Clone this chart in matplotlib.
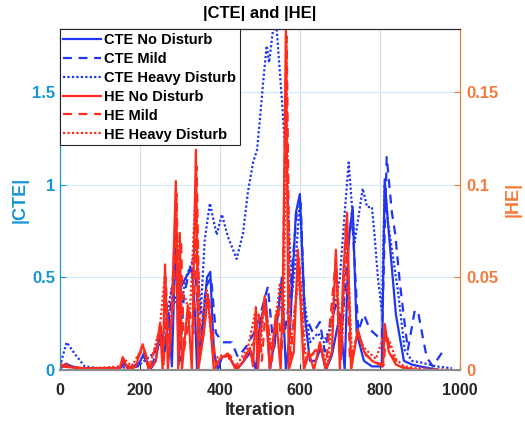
import matplotlib
matplotlib.use("Agg")
import matplotlib.pyplot as plt

plt.rcParams['font.family'] = ['Liberation Sans', 'DejaVu Sans']
plt.rcParams['font.weight'] = 'bold'

# |CTE| series (left axis)
cte_none_x = [0, 20, 40, 100, 150, 160, 175, 195, 210, 225, 240, 252, 262, 272, 280, 290, 297, 303,
              315, 330, 338, 343, 355, 368, 376, 385, 395, 405, 420, 432, 442, 460, 478, 490, 500,
              515, 525, 540, 555, 565, 575, 590, 600, 612, 625, 640, 652, 665, 680, 700, 712, 722,
              732, 742, 760, 780, 805, 812, 820, 840, 860, 880, 900, 950, 980]
cte_none_y = [0.01, 0.03, 0.01, 0.01, 0.01, 0.04, 0.01, 0.02, 0.09, 0.0, 0.05, 0.22, 0.1, 0.31, 0.02,
              0.75, 0.03, 0.45, 0.5, 0.55, 0.3, 0.0, 0.2, 0.5, 0.53, 0.1, 0.0, 0.07, 0.08, 0.04, 0.0,
              0.05, 0.1, 0.0, 0.25, 0.38, 0.0, 0.2, 0.5, 0.0, 0.2, 0.85, 0.95, 0.3, 0.05, 0.05, 0.12,
              0.0, 0.08, 0.3, 0.0, 0.7, 0.88, 0.2, 0.05, 0.02, 0.02, 1.03, 0.8, 0.3, 0.05, 0.03, 0.02,
              0.0, 0.0]

cte_mild_x = [0, 20, 40, 100, 150, 160, 180, 210, 230, 250, 265, 275, 290, 300, 310, 325, 340, 350,
              365, 378, 390, 407, 430, 445, 467, 485, 500, 520, 535, 550, 562, 575, 592, 602, 612,
              633, 650, 662, 675, 690, 705, 718, 730, 746, 760, 775, 800, 805, 817, 830, 838, 850,
              862, 870, 887, 895, 907, 917, 932, 957, 965]
cte_mild_y = [0.01, 0.04, 0.01, 0.01, 0.01, 0.03, 0.01, 0.07, 0.01, 0.2, 0.15, 0.3, 0.7, 0.05, 0.4,
              0.55, 0.5, 0.1, 0.45, 0.5, 0.2, 0.15, 0.15, 0.07, 0.13, 0.2, 0.29, 0.45, 0.1, 0.4, 0.2,
              0.4, 0.85, 0.9, 0.3, 0.2, 0.26, 0.1, 0.24, 0.35, 0.2, 0.6, 0.85, 0.21, 0.3, 0.22, 0.17,
              0.17, 1.15, 0.85, 0.74, 0.47, 0.25, 0.11, 0.32, 0.32, 0.18, 0.07, 0.02, 0.1, 0.09]

cte_heavy_x = [0, 17, 40, 62, 100, 150, 200, 240, 260, 280, 300, 315, 330, 342, 352, 362, 375, 392,
               405, 420, 442, 458, 470, 483, 493, 500, 508, 517, 523, 533, 542, 555, 563, 570, 580,
               590, 600, 610, 625, 645, 660, 680, 700, 712, 722, 737, 757, 768, 780, 787, 795, 805,
               812, 820, 830, 845, 862, 880, 905, 940, 980]
cte_heavy_y = [0.02, 0.15, 0.08, 0.02, 0.01, 0.01, 0.03, 0.1, 0.2, 0.45, 0.3, 0.5, 0.58, 0.67, 0.3,
               0.7, 0.9, 0.73, 0.84, 0.72, 0.6, 0.74, 0.96, 1.12, 1.19, 1.35, 1.55, 1.75, 1.66, 1.84,
               1.84, 1.46, 1.19, 0.92, 0.4, 0.6, 0.92, 0.4, 0.15, 0.2, 0.15, 0.25, 0.5, 0.85, 1.12,
               0.69, 0.98, 0.88, 0.88, 0.72, 0.5, 0.32, 1.0, 0.8, 0.65, 0.43, 0.11, 0.05, 0.04, 0.02,
               0.01]

# |HE| series (right axis)
he_none_x = [0, 50, 100, 150, 157, 170, 190, 207, 222, 240, 250, 257, 263, 270, 280, 290, 296, 300,
             305, 320, 330, 340, 346, 360, 370, 385, 400, 420, 440, 460, 475, 483, 490, 495, 502,
             512, 525, 540, 552, 558, 565, 572, 585, 595, 610, 622, 635, 650, 665, 680, 690, 700,
             708, 718, 728, 745, 760, 780, 808, 812, 822, 840, 860, 900, 980]
he_none_y = [0.002, 0.001, 0.001, 0.001, 0.007, 0.0, 0.002, 0.014, 0.0, 0.005, 0.025, 0.0, 0.057,
             0.0, 0.03, 0.102, 0.0, 0.074, 0.0, 0.035, 0.0, 0.119, 0.0, 0.02, 0.041, 0.0, 0.006,
             0.009, 0.0, 0.005, 0.012, 0.002, 0.034, 0.0, 0.02, 0.04, 0.0, 0.03, 0.0, 0.05, 0.184,
             0.0, 0.01, 0.065, 0.0, 0.01, 0.0, 0.015, 0.0, 0.01, 0.065, 0.0, 0.05, 0.085, 0.0,
             0.022, 0.01, 0.005, 0.002, 0.025, 0.01, 0.003, 0.001, 0.0, 0.0]

he_mild_x = [0, 30, 60, 150, 160, 175, 210, 225, 252, 260, 265, 272, 285, 292, 298, 303, 310, 325,
             335, 342, 350, 372, 390, 405, 425, 445, 470, 485, 497, 505, 515, 530, 545, 555, 567,
             576, 598, 612, 650, 665, 690, 702, 715, 725, 745, 765, 790, 810, 815, 830, 850, 870,
             900, 980]
he_mild_y = [0.003, 0.002, 0.001, 0.001, 0.006, 0.001, 0.012, 0.001, 0.024, 0.002, 0.05, 0.005,
             0.04, 0.095, 0.01, 0.07, 0.01, 0.03, 0.02, 0.11, 0.01, 0.04, 0.003, 0.007, 0.008,
             0.001, 0.01, 0.015, 0.03, 0.005, 0.035, 0.005, 0.035, 0.01, 0.18, 0.005, 0.06, 0.003,
             0.014, 0.002, 0.06, 0.005, 0.08, 0.005, 0.02, 0.008, 0.004, 0.003, 0.02, 0.008, 0.002,
             0.001, 0.0, 0.0]

he_heavy_x = [0, 15, 40, 80, 150, 160, 180, 208, 225, 250, 262, 275, 290, 300, 312, 325, 340, 350,
              367, 385, 400, 420, 440, 470, 487, 500, 512, 530, 550, 560, 566, 575, 600, 615, 640,
              652, 670, 690, 705, 717, 730, 745, 760, 790, 812, 825, 840, 860, 900, 980]
he_heavy_y = [0.004, 0.003, 0.001, 0.001, 0.002, 0.006, 0.002, 0.013, 0.002, 0.023, 0.05, 0.01,
              0.09, 0.04, 0.04, 0.03, 0.1, 0.02, 0.043, 0.005, 0.008, 0.007, 0.002, 0.012, 0.03,
              0.01, 0.038, 0.01, 0.047, 0.02, 0.17, 0.01, 0.055, 0.005, 0.01, 0.012, 0.003, 0.055,
              0.01, 0.075, 0.008, 0.02, 0.012, 0.006, 0.02, 0.015, 0.006, 0.002, 0.001, 0.0]

left_col = '#1596d3'
right_col = '#f4793b'
blue = '#1f35f2'
red = '#ff2b1c'

fig = plt.figure(figsize=(5.25, 4.22), dpi=100)
ax = fig.add_axes([0.114, 0.123, 0.762, 0.808])
ax2 = ax.twinx()

h1, = ax.plot(cte_none_x, cte_none_y, color=blue, lw=1.6, ls='-', label='CTE No Disturb')
h2, = ax.plot(cte_mild_x, cte_mild_y, color=blue, lw=1.6, ls=(0, (4, 3)), label='CTE Mild')
h3, = ax.plot(cte_heavy_x, cte_heavy_y, color=blue, lw=1.6, ls=(0, (1, 1)), label='CTE Heavy Disturb')
h4, = ax2.plot(he_none_x, he_none_y, color=red, lw=1.6, ls='-', label='HE No Disturb')
h5, = ax2.plot(he_mild_x, he_mild_y, color=red, lw=1.6, ls=(0, (4, 3)), label='HE Mild')
h6, = ax2.plot(he_heavy_x, he_heavy_y, color=red, lw=1.6, ls=(0, (1, 1)), label='HE Heavy Disturb')

ax.set_xlim(0, 1000)
ax.set_ylim(0, 1.84)
ax2.set_ylim(0, 0.184)
ax.set_xticks([0, 200, 400, 600, 800, 1000])
ax.set_yticks([0, 0.5, 1, 1.5])
ax.set_yticklabels(['0', '0.5', '1', '1.5'])
ax2.set_yticks([0, 0.05, 0.1, 0.15])
ax2.set_yticklabels(['0', '0.05', '0.1', '0.15'])

ax.xaxis.grid(True, color='#dcdcdc', lw=0.8)
ax.yaxis.grid(True, color='#cfeaf6', lw=0.8)
ax.set_axisbelow(True)

ax.tick_params(axis='x', direction='in', labelsize=11.5, colors='#262626', length=4, pad=9)
ax.tick_params(axis='y', direction='in', labelsize=12, colors=left_col, length=4)
ax2.tick_params(axis='y', direction='in', labelsize=12, colors=right_col, length=4, pad=5)
for a in (ax, ax2):
    a.spines['left'].set_color(left_col)
    a.spines['right'].set_color(right_col)
    a.spines['bottom'].set_color('#8c8c8c')
    a.spines['bottom'].set_linewidth(1.5)
    a.spines['top'].set_color('#262626')

ax.set_xlabel('Iteration', fontsize=13, fontweight='bold', color='#262626', labelpad=3)
ax.set_ylabel('|CTE|', fontsize=13, fontweight='bold', color=left_col, labelpad=2)
ax2.set_ylabel('|HE|', fontsize=13, fontweight='bold', color=right_col, rotation=90, labelpad=4)
ax.set_title('|CTE| and |HE|', fontsize=12, fontweight='bold', pad=8)

leg = ax2.legend(handles=[h1, h2, h3, h4, h5, h6], loc='upper left', fontsize=10.5,
                 borderaxespad=0, handlelength=2.6, handletextpad=0.2, labelspacing=0.34,
                 borderpad=0.25, fancybox=False, framealpha=1, edgecolor='#262626')
leg.get_frame().set_linewidth(0.8)
for t in leg.get_texts():
    t.set_fontweight('bold')

fig.savefig('out.png', dpi=100)
